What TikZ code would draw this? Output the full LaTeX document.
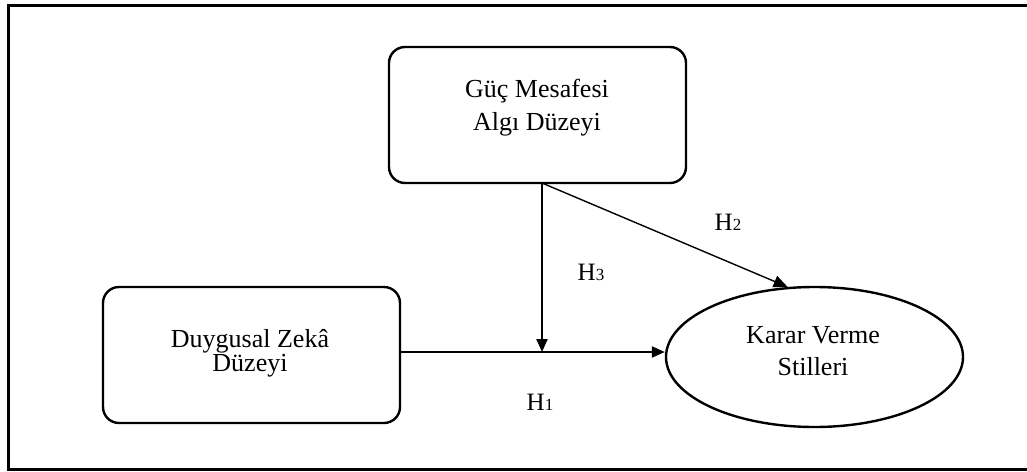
\documentclass[tikz,border=0pt]{standalone}
\usepackage{fontspec}
\setmainfont{Liberation Serif}
\usetikzlibrary{arrows.meta,shapes.geometric}
\begin{document}
\begin{tikzpicture}[x=1pt,y=-1pt,
  txt/.style={align=center},
  rbox/.style={draw, line width=2.4pt, rounded corners=16pt, minimum width=297pt, inner sep=0pt},
  conn/.style={line width=2.2pt, -{Triangle[length=13pt,width=11pt]}},
  thinconn/.style={line width=1.4pt, -{Triangle[length=14pt,width=12pt]}},
  hlab/.style={font=\fontsize{25}{25}\selectfont},
  frame/.style={line width=3pt}]
\useasboundingbox (0,0) rectangle (1027,471);
% frame (no right edge visible)
\coordinate (f1) at (1027,5);
\coordinate (f2) at (8,5);
\coordinate (f3) at (8,469);
\coordinate (f4) at (1027,469);
\draw[frame] (f1) -- (f2) -- (f3) -- (f4);
% nodes
\node[rbox, minimum height=136pt] (g) at (537.5,115) {};
\node[txt, font=\fontsize{26}{33}\selectfont] (gt) at (537,108) {Güç Mesafesi\\Algı Düzeyi};
\node[rbox, minimum height=136pt] (d) at (251.5,355) {};
\node[txt, font=\fontsize{26}{24}\selectfont] (dt) at (250,353) {Duygusal Zekâ\\Düzeyi};
\node[draw, ellipse, line width=2.4pt, minimum width=297pt, minimum height=140pt, inner sep=0pt] (k) at (814.5,357) {};
\node[txt, font=\fontsize{26}{32}\selectfont] (kt) at (813,351) {Karar Verme\\Stilleri};
% connectors
\coordinate (j) at (542,352);
\coordinate (top) at (542,183);
\draw[conn] (top) -- (j);
\draw[conn] (d.east |- j) -- (k.west |- j);
\draw[thinconn] (top) -- (k.111);
% labels
\node[hlab] (h2) at (728,222) {H{\fontsize{17}{17}\selectfont 2}};
\node[hlab] (h3) at (591,272) {H{\fontsize{17}{17}\selectfont 3}};
\node[hlab] (h1) at (540,402) {H{\fontsize{17}{17}\selectfont 1}};
\end{tikzpicture}
\end{document}
